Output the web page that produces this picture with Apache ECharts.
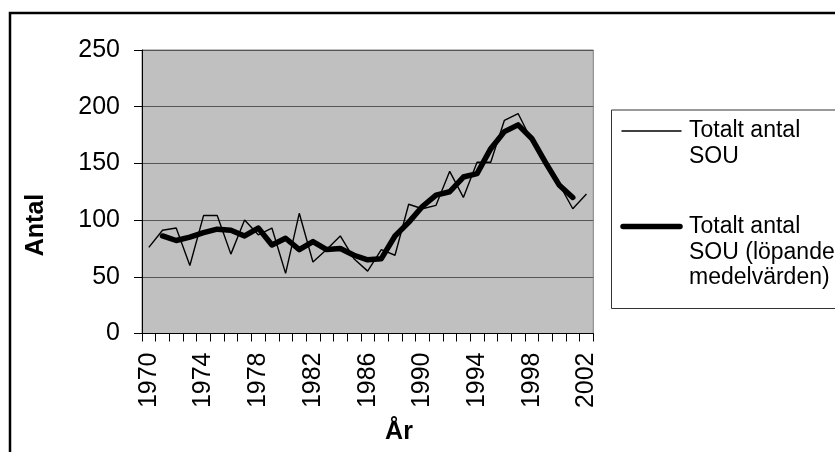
<!DOCTYPE html>
<html>
<head>
<meta charset="utf-8">
<script src="https://cdn.jsdelivr.net/npm/echarts@6/dist/echarts.min.js"></script>
<style>
html,body{margin:0;padding:0;background:#fff;}
#chart{width:835px;height:452px;}
</style>
</head>
<body>
<div id="chart"></div>
<script>
const years = ['1970','1971','1972','1973','1974','1975','1976','1977','1978','1979','1980','1981','1982','1983','1984','1985','1986','1987','1988','1989','1990','1991','1992','1993','1994','1995','1996','1997','1998','1999','2000','2001','2002'];
const totalSOU = [76,91,93,60,104,104,70,100,87,93,53,106,63,74,86,66,55,74,69,114,110,113,143,120,151,151,188,194,170,152,132,110,123];
const movingAvg = [null,86,82,85,89,92,91,86,93,78,84,74,81,74,75,69,65,66,86,98,112,122,125,138,141,163,178,184,172,151,131,120,null];
const seriesNames = ['Totalt antal SOU','Totalt antal SOU (löpande medelvärden)'];
const legendLines1 = ['Totalt antal','SOU'];
const legendLines2 = ['Totalt antal','SOU (löpande','medelvärden)'];
const yTitle = 'Antal';
const xTitle = 'År';

const FONT = '"Liberation Sans", Arial, sans-serif';
const chart = echarts.init(document.getElementById('chart'), null, {renderer:'canvas'});

const graphics = [
  {type:'rect', shape:{x:10,y:13,width:900,height:520}, style:{fill:'none',stroke:'#000',lineWidth:2.5}, z:100},
  {type:'text', x:36, y:225, rotation:Math.PI/2, style:{text:yTitle, font:'bold 25px '+FONT, fill:'#000', textAlign:'center', textVerticalAlign:'middle'}},
  {type:'text', x:399, y:432, style:{text:xTitle, font:'bold 25px '+FONT, fill:'#000', textAlign:'center', textVerticalAlign:'middle'}},
  {type:'rect', shape:{x:611.5,y:110,width:300,height:198.5}, style:{fill:'#fff',stroke:'#333',lineWidth:1}},
  {type:'line', shape:{x1:621.5,y1:131,x2:681.5,y2:131}, style:{stroke:'#000',lineWidth:1.3}},
  {type:'line', shape:{x1:623,y1:226.5,x2:680,y2:226.5}, style:{stroke:'#000',lineWidth:5.5,lineCap:'round'}}
];
const leg1Y = [131,156.7];
legendLines1.forEach((t,i)=>graphics.push({type:'text', x:689, y:leg1Y[i], style:{text:t, font:'23px '+FONT, fill:'#000', textAlign:'left', textVerticalAlign:'middle'}}));
const leg2Y = [226.7,252.3,278];
legendLines2.forEach((t,i)=>graphics.push({type:'text', x:689, y:leg2Y[i], style:{text:t, font:'23px '+FONT, fill:'#000', textAlign:'left', textVerticalAlign:'middle'}}));

chart.setOption({
  animation:false,
  backgroundColor:'#fff',
  grid:{left:142,right:241.7,top:50,bottom:118.5,show:true,backgroundColor:'#c0c0c0',borderColor:'#808080',borderWidth:1},
  xAxis:{
    type:'category', data:years, boundaryGap:true,
    axisLine:{show:true,lineStyle:{color:'#000',width:1}},
    axisTick:{show:true,interval:0,length:8,lineStyle:{color:'#000'}},
    axisLabel:{interval:3,rotate:90,margin:19,fontSize:25,color:'#000',fontFamily:FONT},
    splitLine:{show:false}
  },
  yAxis:{
    type:'value', min:0, max:250, interval:50,
    axisLine:{show:true,lineStyle:{color:'#000',width:1}},
    axisTick:{show:true,length:8,lineStyle:{color:'#000'}},
    axisLabel:{margin:22,fontSize:25,color:'#000',fontFamily:FONT},
    splitLine:{show:true,lineStyle:{color:'#555',width:1.2}}
  },
  series:[
    {name:seriesNames[0], type:'line', data:totalSOU, symbol:'none', lineStyle:{color:'#000',width:1.4}, itemStyle:{color:'#000'}, z:2},
    {name:seriesNames[1], type:'line', data:movingAvg, symbol:'none', connectNulls:false, lineStyle:{color:'#000',width:5.5,cap:'round',join:'round'}, itemStyle:{color:'#000'}, z:3}
  ],
  graphic:graphics
});
</script>
</body>
</html>
